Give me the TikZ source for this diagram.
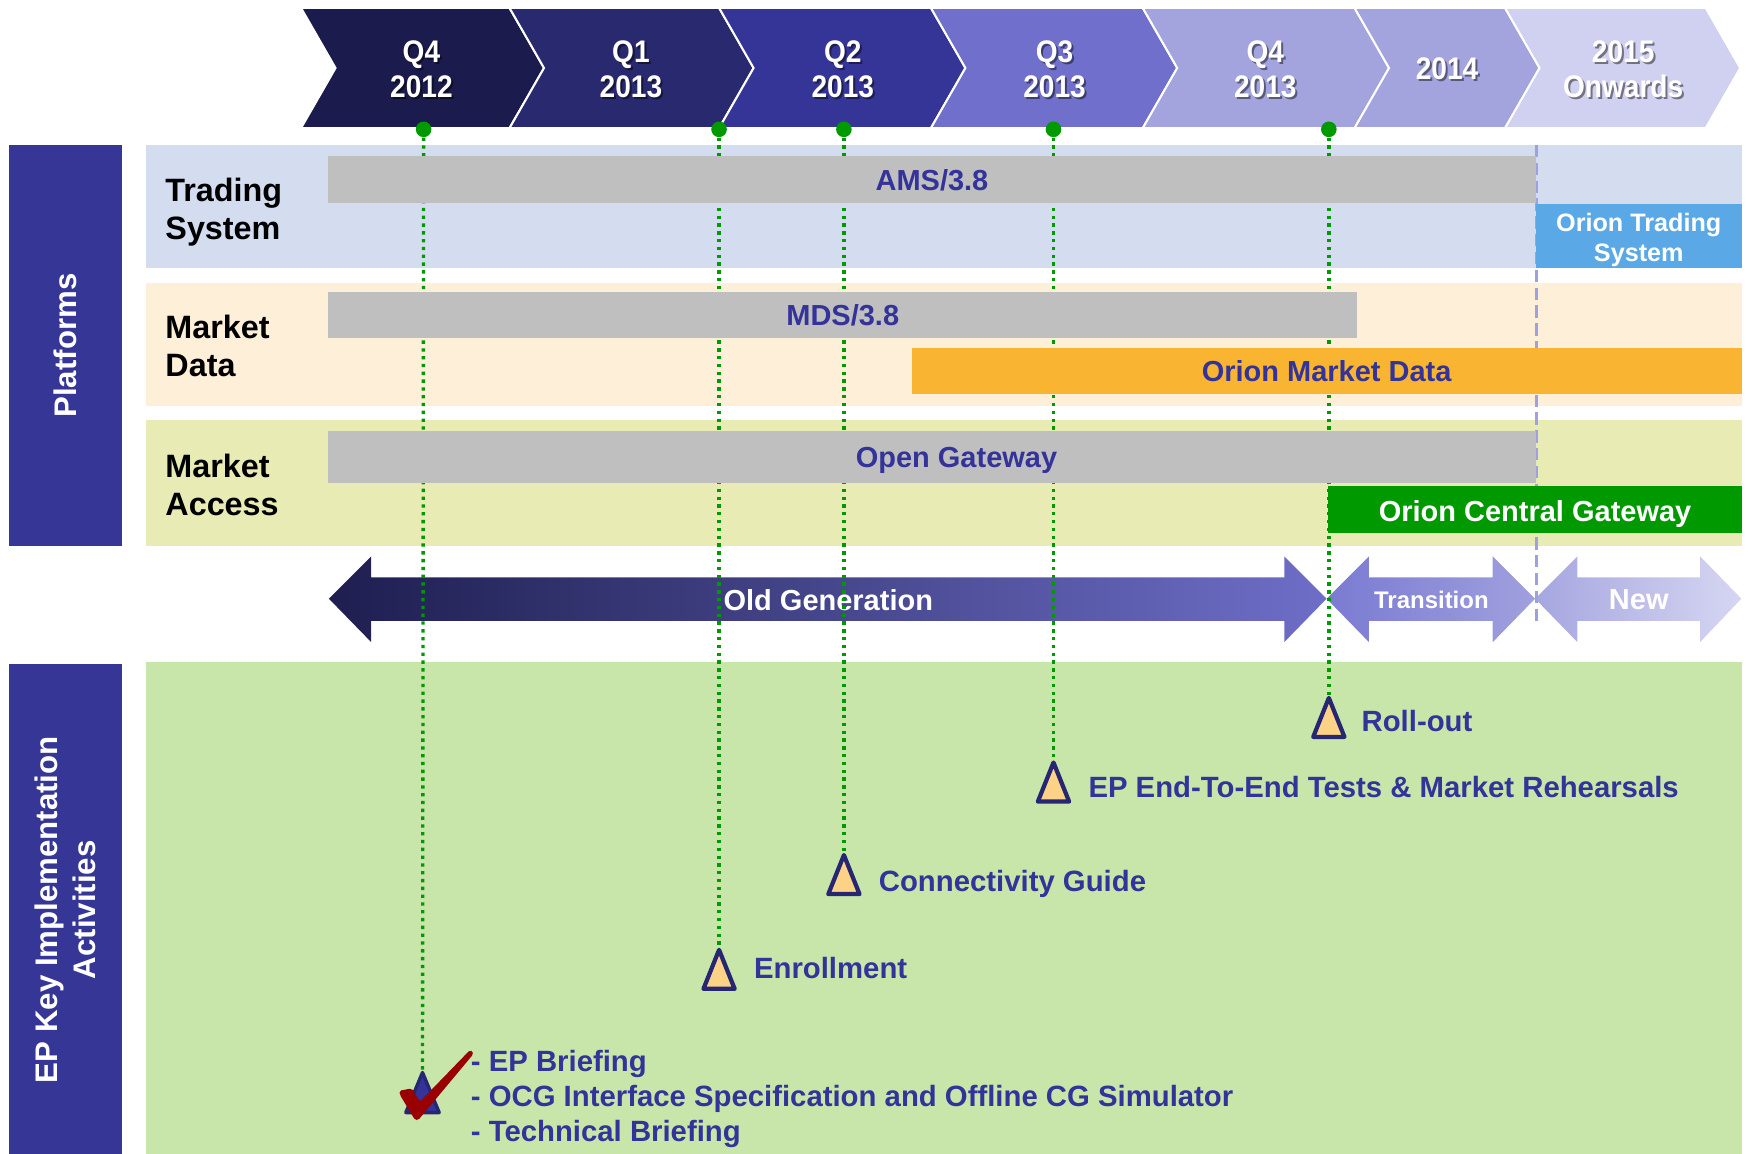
\documentclass[tikz,border=0pt]{standalone}
\usepackage{fontspec}
\setmainfont{Liberation Sans}
\newfontfamily\narrowfont[FakeStretch=0.9]{Liberation Sans}
\usetikzlibrary{calc}
\definecolor{chevA}{HTML}{1B1B4D}
\definecolor{chevB}{HTML}{29296F}
\definecolor{chevC}{HTML}{353597}
\definecolor{chevD}{HTML}{7070CC}
\definecolor{chevE}{HTML}{A3A3DE}
\definecolor{chevF}{HTML}{D0D0F0}
\definecolor{side}{HTML}{363696}
\definecolor{rowA}{HTML}{D4DDEF}
\definecolor{rowB}{HTML}{FDEFD8}
\definecolor{rowC}{HTML}{E8EBB3}
\definecolor{epbg}{HTML}{C9E6AA}
\definecolor{barg}{HTML}{BFBFBF}
\definecolor{tblue}{HTML}{333399}
\definecolor{orts}{HTML}{5AA9E6}
\definecolor{oramd}{HTML}{F9B531}
\definecolor{ocgc}{HTML}{009900}
\definecolor{dotg}{HTML}{009900}
\definecolor{trifill}{HTML}{FCD286}
\definecolor{tristroke}{HTML}{262673}
\definecolor{checkred}{HTML}{990000}
\definecolor{lav}{HTML}{A0A0E0}
\definecolor{arrA}{HTML}{1E1E50}
\definecolor{arrB}{HTML}{6E6EC8}
\definecolor{arrC}{HTML}{7A7AD2}
\definecolor{arrD}{HTML}{A0A0DE}
\definecolor{arrE}{HTML}{A6A6E0}
\definecolor{arrF}{HTML}{D6D6F2}
\tikzset{
  chevt/.style={text=white, align=center, inner sep=0pt,
    font=\narrowfont\bfseries\fontsize{14}{15.5}\selectfont},
  rowlbl/.style={anchor=west, align=left, inner sep=0pt, text=black,
    font=\bfseries\fontsize{14.5}{17}\selectfont},
  bartxt/.style={inner sep=0pt, font=\bfseries\fontsize{13}{15}\selectfont},
  sidetxt/.style={text=white, align=center, inner sep=0pt, rotate=90,
    font=\bfseries\fontsize{14}{17}\selectfont},
  eplbl/.style={anchor=west, align=left, inner sep=0pt, text=tblue,
    font=\bfseries\fontsize{13.15}{15.75}\selectfont},
  dot/.style={circle, fill=dotg, inner sep=0pt, minimum size=7pt},
  dotln/.style={draw=dotg, line width=1.5pt, dash pattern=on 1.5pt off 2pt},
  dashln/.style={draw=lav, line width=1.2pt, dash pattern=on 5.5pt off 2.5pt},
  tri/.style={fill=trifill, draw=tristroke, line width=1.9pt, line join=round},
  arrtxt/.style={text=white, inner sep=0pt, font=\bfseries\fontsize{13}{15}\selectfont}
}
\begin{document}
\begin{tikzpicture}[x=0.5pt,y=-0.5pt]
\useasboundingbox (0,0) rectangle (1568,1035);
% chevrons
\foreach \l/\r/\c in {270/457/chevA, 457/645/chevB, 645/835/chevC, 835/1025/chevD, 1025/1215/chevE, 1215/1350/chevE, 1350/1530/chevF}{
  \fill[\c, draw=white, line width=0.9pt] (\l,7) -- (\r,7) -- (\r+31,61) -- (\r,115) -- (\l,115) -- (\l+31,61) -- cycle;
}
\foreach \i/\x/\y/\t in {1/378/62/{Q4\\2012}, 2/566/62/{Q1\\2013}, 3/756/62/{Q2\\2013}, 4/946/62/{Q3\\2013}, 5/1135/62/{Q4\\2013}, 6/1298/62/{2014}, 7/1456/62/{2015\\Onwards}}{
  \node[chevt, text=black, opacity=0.45] (cs\i) at (\x+1.8,\y+1.8) {\t};
  \node[chevt] (c\i) at (\x,\y) {\t};
}
% row backgrounds and sidebars
\fill[rowA] (131,130) rectangle (1563,240);
\fill[rowB] (131,254) rectangle (1563,364);
\fill[rowC] (131,377) rectangle (1563,490);
\fill[epbg] (131,594) rectangle (1563,1035);
\fill[side] (8,130) rectangle (109,490);
\fill[side] (8,596) rectangle (109,1035);
\node[sidetxt] (plat) at (59,310) {Platforms};
\node[sidetxt] (epside) at (59,816) {EP Key Implementation\\Activities};
% row labels
\node[rowlbl] (ts) at (148,190) {Trading\\System};
\node[rowlbl] (md) at (148,310) {Market\\Data};
\node[rowlbl] (ma) at (148,435) {Market\\Access};
% generation arrows
\shade[left color=arrA, right color=arrB] (295,537) -- (333,499) -- (333,518) -- (1152,518) -- (1152,499) -- (1190,537) -- (1152,576) -- (1152,557) -- (333,557) -- (333,576) -- cycle;
\shade[left color=arrC, right color=arrD] (1190,537) -- (1228,499) -- (1228,518) -- (1339,518) -- (1339,499) -- (1377,537) -- (1339,576) -- (1339,557) -- (1228,557) -- (1228,576) -- cycle;
\shade[left color=arrE, right color=arrF] (1377,537) -- (1415,499) -- (1415,518) -- (1525,518) -- (1525,499) -- (1562,537) -- (1525,576) -- (1525,557) -- (1415,557) -- (1415,576) -- cycle;
\node[arrtxt] (oldg) at (743,538) {Old Generation};
\node[arrtxt, font=\bfseries\fontsize{10.75}{13}\selectfont] (trans) at (1284,538) {Transition};
\node[arrtxt] (newg) at (1470,538) {New};
% dashed boundary
\draw[dashln] (1378,130) -- (1378,560);
% milestone dots and apex coordinates
\foreach \i/\x in {1/380, 2/645, 3/757, 4/945, 5/1192}{
  \node[dot] (d\i) at (\x,116) {};
}
\coordinate (t1) at (379,962);
\coordinate (t2) at (645,852);
\coordinate (t3) at (757,767);
\coordinate (t4) at (945,684);
\coordinate (t5) at (1192,626);
\foreach \i in {1,...,5}{ \draw[dotln] (d\i) -- (t\i); }
% bars
\fill[barg] (294,140) rectangle (1378,182);
\fill[orts] (1378,183) rectangle (1563,240);
\fill[barg] (294,262) rectangle (1217,303);
\fill[oramd] (818,312) rectangle (1563,353);
\fill[barg] (294,387) rectangle (1378,433);
\fill[ocgc] (1191,436) rectangle (1563,478);
\node[bartxt, text=tblue] (ams) at (836,162) {AMS/3.8};
\node[bartxt, text=white, align=center, font=\bfseries\fontsize{11.3}{13.5}\selectfont] (ots) at (1470,215.5) {Orion Trading\\System};
\node[bartxt, text=tblue] (mds) at (756,283) {MDS/3.8};
\node[bartxt, text=tblue] (omd) at (1190,333) {Orion Market Data};
\node[bartxt, text=tblue] (ogw) at (858,413) {Open Gateway};
\node[bartxt, text=white] (ocg) at (1377,461) {Orion Central Gateway};
% triangles
\foreach \i in {2,...,5}{
  \filldraw[tri] (t\i) -- ++(-14,35) -- ++(28,0) -- cycle;
}
\filldraw[fill=tblue, draw=tristroke, line width=1.5pt, line join=round] (t1) -- ++(-15,36) -- ++(30,0) -- cycle;
% check mark
\fill[checkred, rounded corners=0.8pt] (358.2,978.4) -- (369.3,976.3) -- (376.7,988.2) -- (421.6,941.9) -- (424.0,943.4) -- (424.6,945.5) -- (375.2,1004.7) -- (372.3,1004.7) -- (358.8,982.2) -- cycle;
% milestone labels
\node[eplbl] (roll) at (1221,647) {Roll-out};
\node[eplbl] (e2e) at (976,706) {EP End-To-End Tests \& Market Rehearsals};
\node[eplbl] (conn) at (788,793) {Connectivity Guide};
\node[eplbl] (enr) at (676,868) {Enrollment};
\node[eplbl] (brief) at (422,986) {- EP Briefing\\- OCG Interface Specification and Offline CG Simulator\\- Technical Briefing};
\end{tikzpicture}
\end{document}
